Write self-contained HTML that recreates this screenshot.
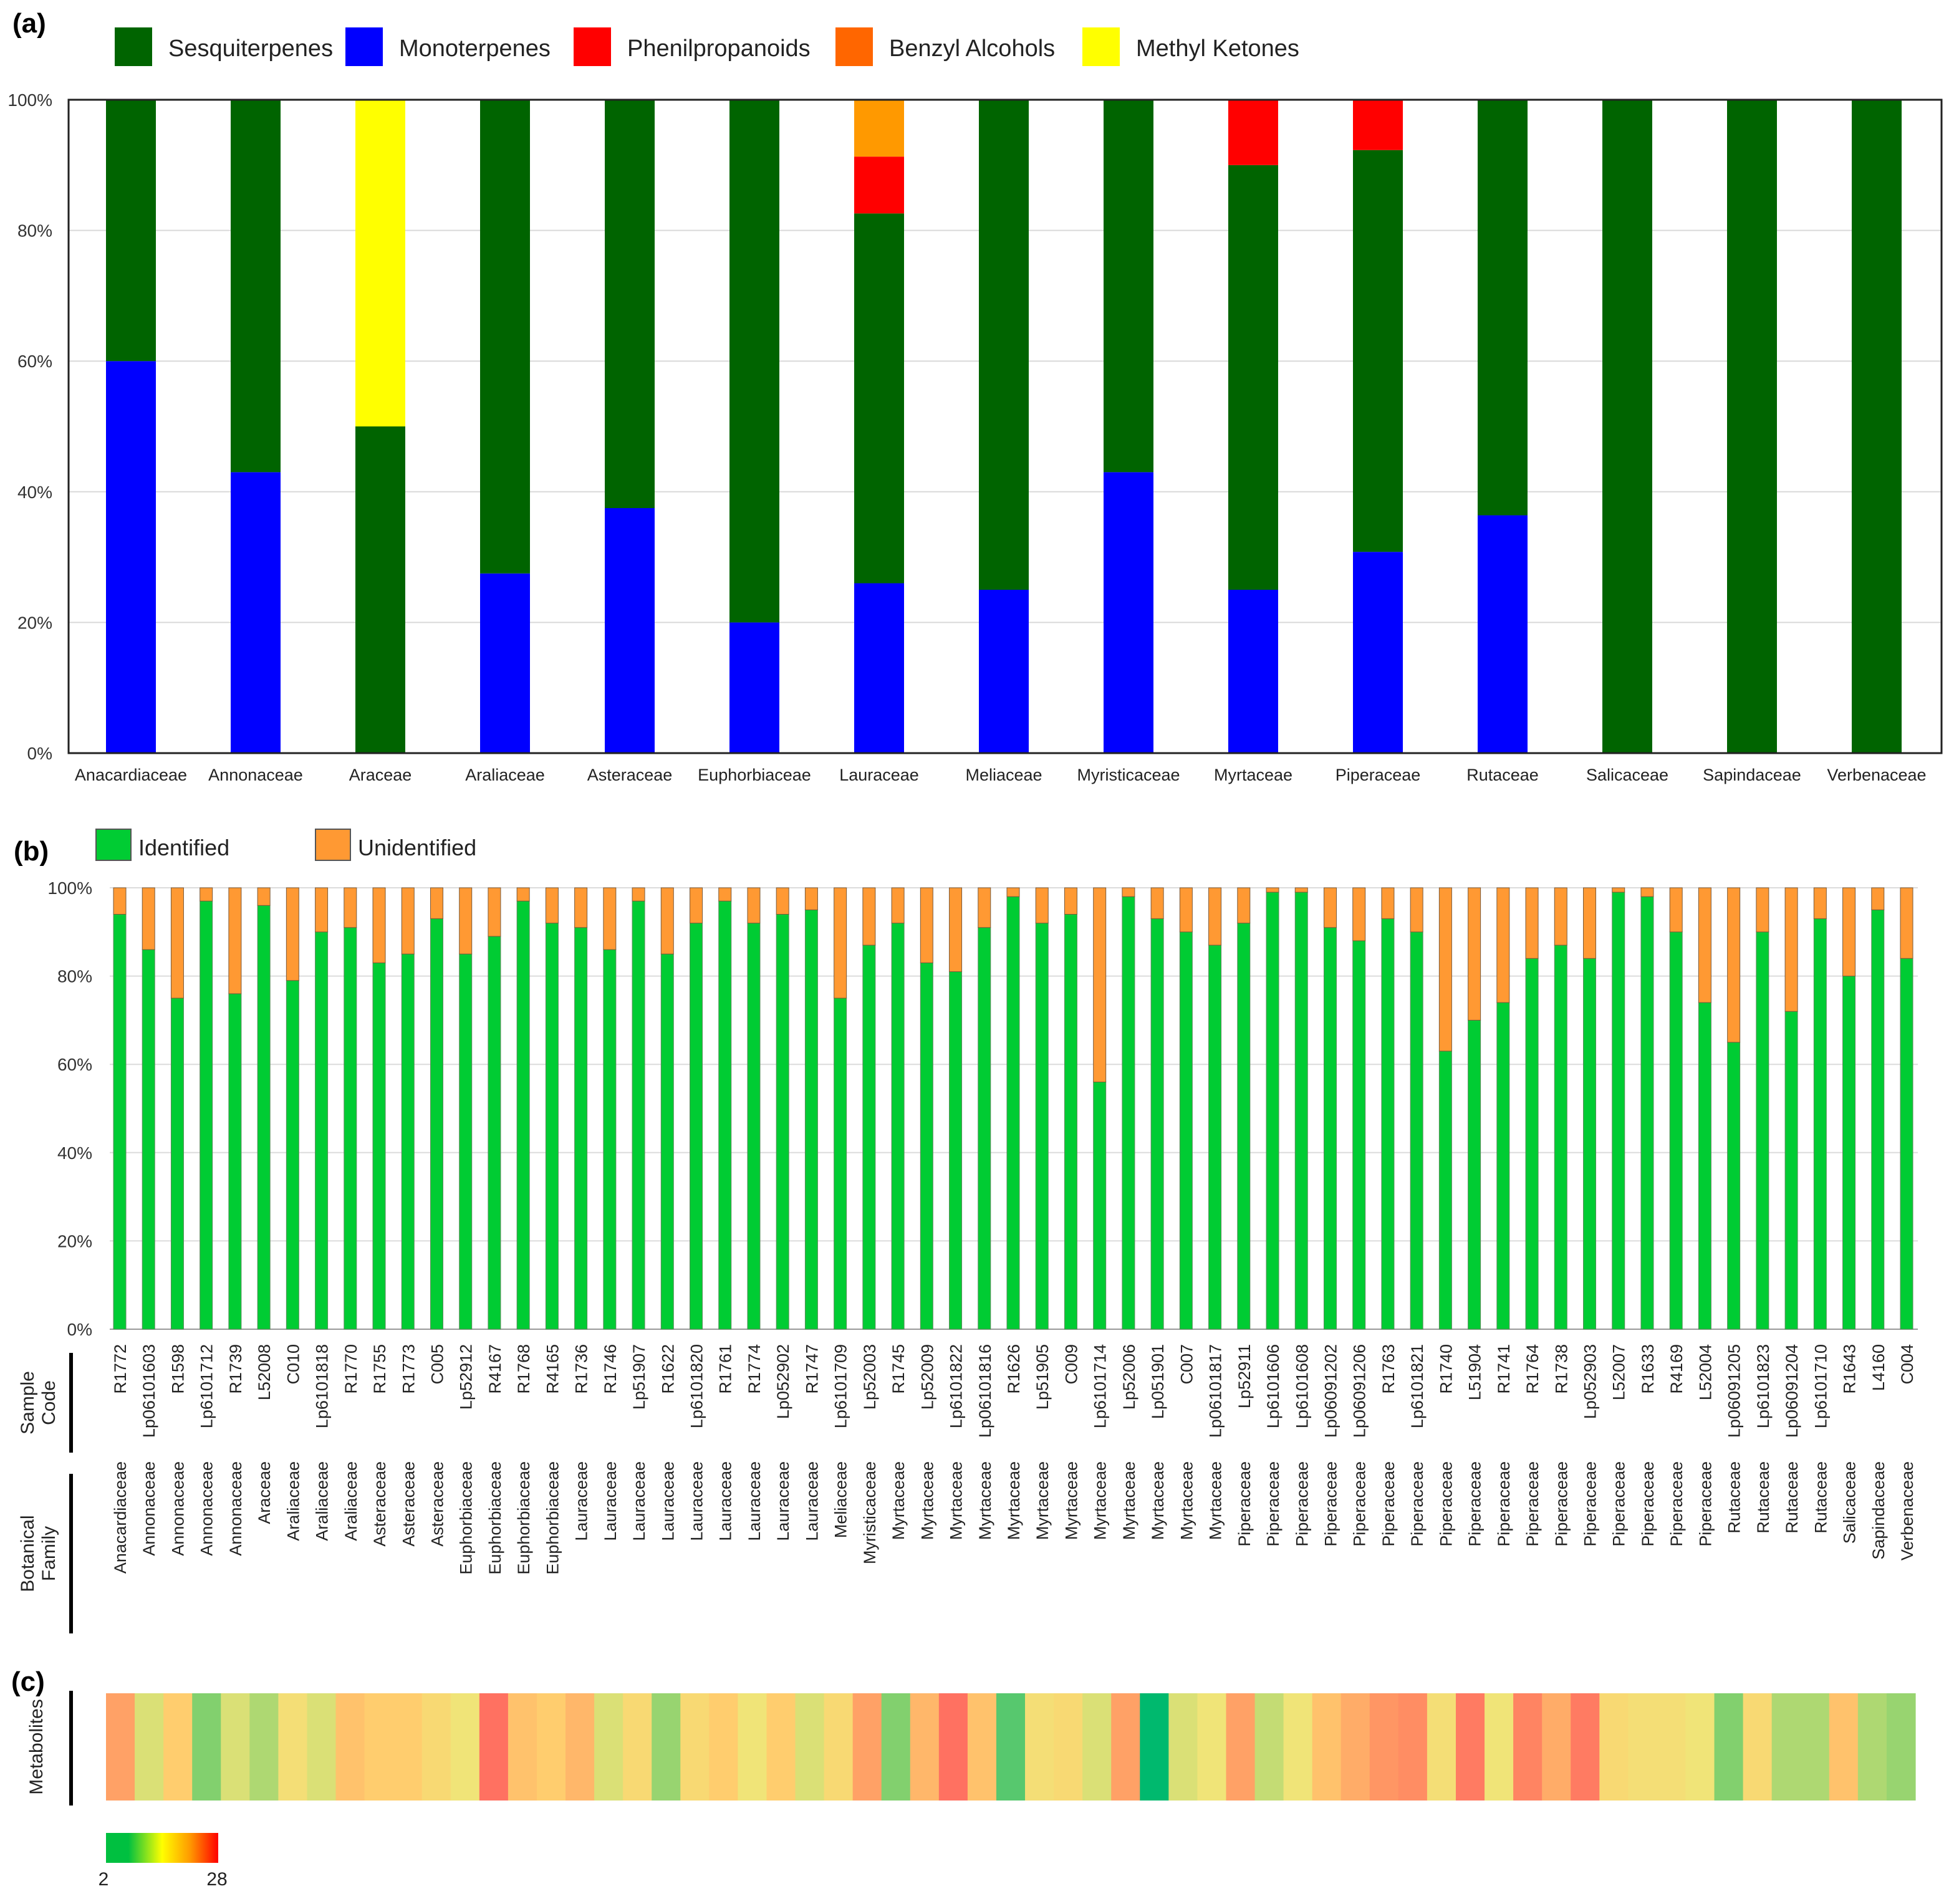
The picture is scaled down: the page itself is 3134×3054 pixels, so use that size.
<!DOCTYPE html>
<html><head><meta charset="utf-8">
<style>
html,body{margin:0;padding:0;background:#fff;}
svg{display:block;font-family:"Liberation Sans",Arial,sans-serif;}
</style></head>
<body>
<svg id="fig" width="3134" height="3054" viewBox="0 0 3134 3054" xmlns="http://www.w3.org/2000/svg">
<g id="pa"></g>
<g id="pb"></g>
<g id="pc"></g>
</svg>
<script>
// ---------- Panel (a) data ----------
const familiesA = ["Anacardiaceae","Annonaceae","Araceae","Araliaceae","Asteraceae","Euphorbiaceae","Lauraceae","Meliaceae","Myristicaceae","Myrtaceae","Piperaceae","Rutaceae","Salicaceae","Sapindaceae","Verbenaceae"];
const monoterpenes   = [60,43,0,27.5,37.5,20,26,25,43,25,30.8,36.4,0,0,0];
const sesquiterpenes = [40,57,50,72.5,62.5,80,56.6,75,57,65,61.5,63.6,100,100,100];
const phenilpropanoids=[0,0,0,0,0,0,8.7,0,0,10,7.7,0,0,0,0];
const benzylAlcohols = [0,0,0,0,0,0,8.7,0,0,0,0,0,0,0,0];
const methylKetones  = [0,0,50,0,0,0,0,0,0,0,0,0,0,0,0];
const yTicksA = [0,20,40,60,80,100];
const legendA = ["Sesquiterpenes","Monoterpenes","Phenilpropanoids","Benzyl Alcohols","Methyl Ketones"];

// ---------- Panel (b) data ----------
const sampleCodes = ["R1772","Lp06101603","R1598","Lp6101712","R1739","L52008","C010","Lp6101818","R1770","R1755","R1773","C005","Lp52912","R4167","R1768","R4165","R1736","R1746","Lp51907","R1622","Lp6101820","R1761","R1774","Lp052902","R1747","Lp6101709","Lp52003","R1745","Lp52009","Lp6101822","Lp06101816","R1626","Lp51905","C009","Lp6101714","Lp52006","Lp051901","C007","Lp06101817","Lp52911","Lp6101606","Lp6101608","Lp06091202","Lp06091206","R1763","Lp6101821","R1740","L51904","R1741","R1764","R1738","Lp052903","L52007","R1633","R4169","L52004","Lp06091205","Lp6101823","Lp06091204","Lp6101710","R1643","L4160","C004"];
const sampleFamilies = ["Anacardiaceae","Annonaceae","Annonaceae","Annonaceae","Annonaceae","Araceae","Araliaceae","Araliaceae","Araliaceae","Asteraceae","Asteraceae","Asteraceae","Euphorbiaceae","Euphorbiaceae","Euphorbiaceae","Euphorbiaceae","Lauraceae","Lauraceae","Lauraceae","Lauraceae","Lauraceae","Lauraceae","Lauraceae","Lauraceae","Lauraceae","Meliaceae","Myristicaceae","Myrtaceae","Myrtaceae","Myrtaceae","Myrtaceae","Myrtaceae","Myrtaceae","Myrtaceae","Myrtaceae","Myrtaceae","Myrtaceae","Myrtaceae","Myrtaceae","Piperaceae","Piperaceae","Piperaceae","Piperaceae","Piperaceae","Piperaceae","Piperaceae","Piperaceae","Piperaceae","Piperaceae","Piperaceae","Piperaceae","Piperaceae","Piperaceae","Piperaceae","Piperaceae","Piperaceae","Rutaceae","Rutaceae","Rutaceae","Rutaceae","Salicaceae","Sapindaceae","Verbenaceae"];
const identified = [94,86,75,97,76,96,79,90,91,83,85,93,85,89,97,92,91,86,97,85,92,97,92,94,95,75,87,92,83,81,91,98,92,94,56,98,93,90,87,92,99,99,91,88,93,90,63,70,74,84,87,84,99,98,90,74,65,90,72,93,80,95,84];
const yTicksB = [0,20,40,60,80,100];

// ---------- Panel (c) data ----------
const metabolites = [21,12,17,8,12,10,14,12,18,17,17,15,13,26,18,17,19,12,15,9,15,17,13,17,12,15,21,8,19,26,18,6,14,15,12,21,2,12,13,21,11,13,18,20,22,23,14,25,13,24,20,25,15,14,14,13,8,15,10,10,18,10,9];
const cbarLabels = ["2","28"];

const NS="http://www.w3.org/2000/svg";
function mk(parent,tag,attrs,text){const e=document.createElementNS(NS,tag);for(const k in attrs)e.setAttribute(k,attrs[k]);if(text!==undefined)e.textContent=text;parent.appendChild(e);return e;}

// ===== Panel A =====
const pa=document.getElementById('pa');
const aL=110,aR=3114,aT=160,aB=1208;
const ya=v=>aB-(v/100)*(aB-aT);
const xa=i=>aL+100+i*200;
let t=mk(pa,'text',{x:20,y:52,'font-size':44,'font-weight':'bold'},'(a)');


const colA=["#006400","#0000FF","#FF0000","#FF6600","#FFFF00"];
const legX=[184,554,920,1340,1736];
for(let i=0;i<legendA.length;i++){
  const r=mk(pa,'rect',{x:legX[i],y:44,width:60,height:62,fill:colA[i]});
  
  
  const tx=mk(pa,'text',{x:legX[i]+86,y:90,'font-size':38,fill:'#222'},legendA[i]);
  
  
}
for(const v of yTicksA){
  const g=mk(pa,'line',{x1:aL,x2:aR,y1:ya(v),y2:ya(v),stroke:'#d9d9d9','stroke-width':2});
  
  
  const tl=mk(pa,'text',{x:aL-26,y:ya(v)+10,'font-size':28,'text-anchor':'end',fill:'#333'},v+'%');
  
  
}
const seriesA=[monoterpenes,sesquiterpenes,phenilpropanoids,methylKetones,benzylAlcohols];
const seriesCol=["#0000FF","#006400","#FF0000","#FFFF00","#FF9900"];
const seriesName=["monoterpenes","sesquiterpenes","phenilpropanoids","methyl-ketones","benzyl-alcohols"];
for(let i=0;i<familiesA.length;i++){
  let cum=0;
  for(let s=0;s<seriesA.length;s++){
    const v=seriesA[s][i];
    if(v>0){
      const r=mk(pa,'rect',{x:xa(i)-40,y:ya(cum+v),width:80,height:ya(cum)-ya(cum+v),fill:seriesCol[s]});
      
      
    }
    cum+=v;
  }
  const tl=mk(pa,'text',{x:xa(i),y:1252,'font-size':27,'text-anchor':'middle',fill:'#222'},familiesA[i]);
  
  
}
const box=mk(pa,'rect',{x:aL,y:aT,width:aR-aL,height:aB-aT,fill:'none',stroke:'#222','stroke-width':3});



// ===== Panel B =====
const pb=document.getElementById('pb');
const bL=176,bR=3076,bT=1424,bB=2132;
const yb=v=>bB-(v/100)*(bB-bT);
const xb=i=>192+i*(3058-192)/62;
t=mk(pb,'text',{x:22,y:1380,'font-size':44,'font-weight':'bold'},'(b)');


const legB=[["Identified","#00CC33",154],["Unidentified","#FF9933",506]];
for(const [nm,c,x] of legB){
  const r=mk(pb,'rect',{x:x,y:1330,width:56,height:50,fill:c,stroke:'#555','stroke-width':2});
  
  
  const tx=mk(pb,'text',{x:x+68,y:1372,'font-size':36,fill:'#222'},nm);
  
  
}
for(const v of yTicksB){
  const g=mk(pb,'line',{x1:bL,x2:bR,y1:yb(v),y2:yb(v),stroke:'#dcdcdc','stroke-width':2});
  
  
  const tl=mk(pb,'text',{x:bL-28,y:yb(v)+10,'font-size':28,'text-anchor':'end',fill:'#333'},v+'%');
  
  
}
const ax=mk(pb,'line',{x1:bL,x2:bR,y1:bB,y2:bB,stroke:'#999','stroke-width':2});


for(let i=0;i<identified.length;i++){
  const x=xb(i)-10;
  const r1=mk(pb,'rect',{x:x,y:yb(identified[i]),width:20,height:bB-yb(identified[i]),fill:'#00CC33',stroke:'#5a8a5a','stroke-width':1});
  
  
  const r2=mk(pb,'rect',{x:x,y:yb(100),width:20,height:yb(identified[i])-yb(100),fill:'#FF9933',stroke:'#7a5a3a','stroke-width':1});
  
  
  const tc=mk(pb,'text',{x:0,y:0,'font-size':27,'text-anchor':'end',fill:'#222',transform:`translate(${xb(i)+10},2156) rotate(-90)`},sampleCodes[i]);
  
  
  const tf=mk(pb,'text',{x:0,y:0,'font-size':27,'text-anchor':'end',fill:'#222',transform:`translate(${xb(i)+10},2344) rotate(-90)`},sampleFamilies[i]);
  
  
}
let ln=mk(pb,'line',{x1:114,x2:114,y1:2170,y2:2330,stroke:'#000','stroke-width':6});


t=mk(pb,'text',{x:0,y:0,'font-size':30,'text-anchor':'middle',fill:'#222',transform:'translate(70,2250) rotate(-90)'});


mk(t,'tspan',{x:0,dy:-16},'Sample');mk(t,'tspan',{x:0,dy:34},'Code');
ln=mk(pb,'line',{x1:114,x2:114,y1:2364,y2:2620,stroke:'#000','stroke-width':6});


t=mk(pb,'text',{x:0,y:0,'font-size':30,'text-anchor':'middle',fill:'#222',transform:'translate(70,2492) rotate(-90)'});


mk(t,'tspan',{x:0,dy:-16},'Botanical');mk(t,'tspan',{x:0,dy:34},'Family');

// ===== Panel C =====
const pc=document.getElementById('pc');
t=mk(pc,'text',{x:18,y:2712,'font-size':44,'font-weight':'bold'},'(c)');


const stops=[[2,[0,185,110]],[8,[130,208,110]],[13,[240,228,120]],[17,[255,205,110]],[22,[255,150,100]],[28,[255,95,95]]];
function cmap(v){
  for(let k=0;k<stops.length-1;k++){
    const [a,ca]=stops[k],[b,cb]=stops[k+1];
    if(v<=b||k===stops.length-2){const f=Math.max(0,Math.min(1,(v-a)/(b-a)));
      return 'rgb('+ca.map((c,j)=>Math.round(c+(cb[j]-c)*f)).join(',')+')';}
  }
}
const cL=170,cR=3072,cT=2716,cB=2888,cw=(cR-cL)/metabolites.length;
for(let i=0;i<metabolites.length;i++){
  const r=mk(pc,'rect',{x:cL+i*cw,y:cT,width:cw+0.6,height:cB-cT,fill:cmap(metabolites[i])});
  
  
}
ln=mk(pc,'line',{x1:114,x2:114,y1:2712,y2:2896,stroke:'#000','stroke-width':6});


t=mk(pc,'text',{x:0,y:0,'font-size':30,'text-anchor':'middle',fill:'#222',transform:'translate(68,2802) rotate(-90)'},'Metabolites');


const defs=mk(document.getElementById('fig'),'defs',{});
const gr=mk(defs,'linearGradient',{id:'cb',x1:0,x2:1,y1:0,y2:0});
[[0,'#00C040'],[0.2,'#00C040'],[0.5,'#FFFF00'],[0.75,'#FF9900'],[1,'#FF0000']].forEach(([o,c])=>mk(gr,'stop',{offset:o,'stop-color':c}));
const cb=mk(pc,'rect',{x:170,y:2940,width:180,height:48,fill:'url(#cb)'});


const cbx=[166,348];
cbarLabels.forEach((s,i)=>{const e=mk(pc,'text',{x:cbx[i],y:3024,'font-size':30,'text-anchor':'middle',fill:'#222'},s);
  
  });
</script>
</body></html>
